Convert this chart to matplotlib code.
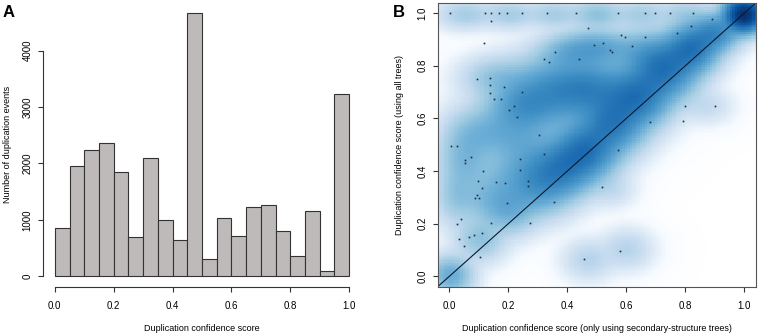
import numpy as np
import matplotlib
matplotlib.use("Agg")
import matplotlib.pyplot as plt
from matplotlib.colors import LinearSegmentedColormap

plt.rcParams["font.family"] = ["Liberation Sans", "DejaVu Sans"]

# --- panel A: histogram, 20 bins of width 0.05 ---
bin_left = [0.00, 0.05, 0.10, 0.15, 0.20, 0.25, 0.30, 0.35, 0.40, 0.45,
            0.50, 0.55, 0.60, 0.65, 0.70, 0.75, 0.80, 0.85, 0.90, 0.95]
counts = [860, 1950, 2230, 2360, 1840, 700, 2100, 1005, 650, 4665,
          300, 1025, 715, 1220, 1265, 810, 350, 1165, 100, 3225]
hist_xticks = [0.0, 0.2, 0.4, 0.6, 0.8, 1.0]
hist_yticks = [0, 1000, 2000, 3000, 4000]

# --- panel B: smoothed density, read off the picture as blobs ---
# (centre, spread, relative density); shown with R's x^0.25 transform
blob_x = [1.00, 0.00, 0.10, 0.20, 0.30, 0.38, 0.46, 0.55, 0.64, 0.73,
          0.82, 0.90, 0.35, 0.48, 0.60, 0.22, 0.05, 0.15, 0.50, 0.40,
          0.05, 0.20, 0.35, 0.50, 0.65, 0.80, 0.47, 0.60, 0.87, 0.55,
          0.18, 0.28, 0.25, 0.66, 0.02, 0.12, 0.10]
blob_y = [1.00, 0.00, 0.14, 0.25, 0.34, 0.41, 0.48, 0.58, 0.69, 0.79,
          0.87, 0.93, 0.70, 0.72, 0.66, 0.55, 0.45, 0.76, 0.87, 0.85,
          1.00, 1.00, 1.00, 1.00, 1.00, 1.00, 0.06, 0.10, 0.65, 0.33,
          0.35, 0.42, 0.65, 0.85, 0.30, 0.28, 0.55]
blob_sx = [0.035, 0.04, 0.045, 0.05, 0.06, 0.06, 0.06, 0.06, 0.06, 0.06,
           0.05, 0.045, 0.10, 0.08, 0.07, 0.08, 0.05, 0.06, 0.07, 0.06,
           0.05, 0.05, 0.05, 0.05, 0.05, 0.05, 0.045, 0.045, 0.045, 0.04,
           0.06, 0.06, 0.06, 0.06, 0.04, 0.05, 0.06]
blob_sy = [0.035, 0.04, 0.045, 0.05, 0.06, 0.06, 0.06, 0.06, 0.06, 0.06,
           0.05, 0.04, 0.07, 0.06, 0.06, 0.08, 0.08, 0.04, 0.04, 0.04,
           0.03, 0.03, 0.03, 0.03, 0.03, 0.03, 0.04, 0.04, 0.035, 0.035,
           0.06, 0.06, 0.05, 0.05, 0.06, 0.05, 0.05]
blob_w = [1.00, 0.10, 0.05, 0.08, 0.14, 0.25, 0.32, 0.27, 0.26, 0.32,
          0.32, 0.22, 0.20, 0.18, 0.08, 0.10, 0.07, 0.04, 0.12, 0.07,
          0.03, 0.03, 0.03, 0.05, 0.03, 0.03, 0.02, 0.02, 0.012, 0.012,
          0.06, 0.07, 0.09, 0.09, 0.04, 0.04, 0.04]

# low-density points drawn on top
pts_x = [0.001, 0.121, 0.140, 0.167, 0.195, 0.246, 0.331, 0.430, 0.571, 0.665,
         0.696, 0.747, 0.827, 0.140, 0.469, 0.118, 0.492, 0.358, 0.322, 0.339,
         0.439, 0.092, 0.138, 0.138, 0.184, 0.246, 0.138, 0.152, 0.174, 0.218,
         0.201, 0.228, 0.305, 0.892, 0.818, 0.583, 0.597, 0.665, 0.773, 0.520,
         0.543, 0.552, 0.620, 0.798, 0.900, 0.679, 0.792, 0.004, 0.027, 0.053,
         0.053, 0.072, 0.114, 0.097, 0.112, 0.157, 0.189, 0.087, 0.101, 0.095,
         0.240, 0.240, 0.265, 0.265, 0.320, 0.195, 0.356, 0.274, 0.140, 0.024,
         0.038, 0.033, 0.067, 0.084, 0.112, 0.050, 0.104, 0.458, 0.571, 0.518,
         0.579]
pts_y = [1.000, 1.000, 1.000, 1.000, 1.000, 1.000, 1.000, 1.000, 1.000, 1.000,
         1.000, 1.000, 1.000, 0.972, 0.945, 0.888, 0.879, 0.854, 0.825, 0.816,
         0.825, 0.750, 0.755, 0.727, 0.721, 0.702, 0.695, 0.672, 0.672, 0.647,
         0.632, 0.604, 0.537, 0.978, 0.952, 0.917, 0.911, 0.911, 0.924, 0.886,
         0.860, 0.854, 0.876, 0.647, 0.647, 0.585, 0.591, 0.496, 0.496, 0.442,
         0.429, 0.454, 0.400, 0.362, 0.336, 0.359, 0.353, 0.298, 0.298, 0.310,
         0.445, 0.403, 0.362, 0.343, 0.464, 0.280, 0.283, 0.203, 0.204, 0.200,
         0.217, 0.143, 0.150, 0.156, 0.163, 0.114, 0.074, 0.064, 0.480, 0.340,
         0.095]
score_ticks = [0.0, 0.2, 0.4, 0.6, 0.8, 1.0]

# R's colorRampPalette(c("white", blues9))
r_blues = ["#FFFFFF", "#F7FBFF", "#DEEBF7", "#C6DBEF", "#9ECAE1",
           "#6BAED6", "#4292C6", "#2171B5", "#08519C", "#08306B"]
cmap = LinearSegmentedColormap.from_list("rblues", r_blues)

AXC = "#333333"
TFS = 7.0   # tick labels
LFS = 6.5   # axis labels

fig = plt.figure(figsize=(7.58, 3.33), dpi=100)

# ---------- A ----------
ax = fig.add_axes([43 / 758, 46.3 / 333, 318 / 758, 284 / 333])
ax.bar(bin_left, counts, width=0.05, align="edge", color="#bebaba",
       edgecolor=AXC, linewidth=0.8)
ax.set_xlim(-0.04, 1.04)
ax.set_ylim(-0.04 * max(counts), 1.04 * max(counts))
for s in ["top", "right"]:
    ax.spines[s].set_visible(False)
for s in ["left", "bottom"]:
    ax.spines[s].set_color(AXC)
    ax.spines[s].set_linewidth(0.8)
ax.spines["left"].set_bounds(hist_yticks[0], hist_yticks[-1])
ax.spines["bottom"].set_bounds(hist_xticks[0], hist_xticks[-1])
ax.set_xticks(hist_xticks)
ax.set_xticklabels([f"{t:.1f}" for t in hist_xticks])
ax.set_yticks(hist_yticks)
ax.set_yticklabels([str(t) for t in hist_yticks], rotation=90, va="center")
ax.tick_params(length=3.5, width=0.8, color=AXC, labelsize=TFS, pad=6.5)
ax.tick_params(axis="y", pad=4)
ax.set_xlabel("Duplication confidence score", fontsize=LFS, labelpad=10)
ax.set_ylabel("Number of duplication events", fontsize=LFS, va="center")
ax.yaxis.set_label_coords((8 - 43) / 318, 0.5)
fig.text(3 / 758, 1 - 5 / 333, "A", fontsize=12, fontweight="bold",
         va="top", ha="left")

# ---------- B ----------
bx = fig.add_axes([437.7 / 758, 46.3 / 333, 318.3 / 758, 284 / 333])
nb = 128
gx = np.linspace(-0.04, 1.04, nb)
GX, GY = np.meshgrid(gx, gx)
dens = np.zeros_like(GX)
for cx, cy, sx, sy, w in zip(blob_x, blob_y, blob_sx, blob_sy, blob_w):
    dens += w * np.exp(-0.5 * (((GX - cx) / sx) ** 2 + ((GY - cy) / sy) ** 2))
shade = (dens / dens.max()) ** 0.25
bx.imshow(shade, origin="lower", extent=[-0.04, 1.04, -0.04, 1.04],
          cmap=cmap, vmin=0, vmax=1, interpolation="nearest", aspect="auto")
bx.plot(pts_x, pts_y, "s", color="#1a2a40", markersize=1.2, markeredgewidth=0)
bx.axline((0, 0), slope=1, color="#0a1a30", linewidth=0.8)
bx.set_xlim(-0.04, 1.04)
bx.set_ylim(-0.04, 1.04)
for s in bx.spines.values():
    s.set_color("#555555")
    s.set_linewidth(0.8)
bx.set_xticks(score_ticks)
bx.set_xticklabels([f"{t:.1f}" for t in score_ticks])
bx.set_yticks(score_ticks)
bx.set_yticklabels([f"{t:.1f}" for t in score_ticks], rotation=90, va="center")
bx.tick_params(length=3.5, width=0.8, color=AXC, labelsize=TFS, pad=6.5)
bx.tick_params(axis="y", pad=4)
bx.set_xlabel("Duplication confidence score (only using secondary-structure trees)",
              fontsize=LFS, labelpad=10)
bx.set_ylabel("Duplication confidence score (using all trees)", fontsize=LFS,
              va="center")
bx.yaxis.set_label_coords((400 - 437.7) / 318.3, 0.5)
fig.text(393 / 758, 1 - 5 / 333, "B", fontsize=12, fontweight="bold",
         va="top", ha="left")

fig.savefig("out.png", dpi=100)
